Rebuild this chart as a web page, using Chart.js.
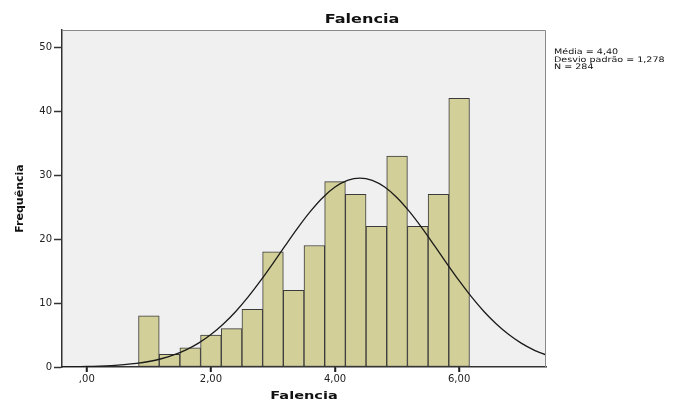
<!DOCTYPE html>
<html>
<head>
<meta charset="utf-8">
<script src="https://cdn.jsdelivr.net/npm/chart.js@4.4.1/dist/chart.umd.min.js"></script>
<style>
html,body{margin:0;padding:0;background:#fff;}
#wrap{width:682px;height:404px;}
</style>
</head>
<body>
<div id="wrap"><canvas id="c" width="682" height="404"></canvas></div>
<script>
// ---- data ----
const binCenters = [1.0000, 1.3333, 1.6667, 2.0000, 2.3333, 2.6667, 3.0000, 3.3333,
                    3.6667, 4.0000, 4.3333, 4.6667, 5.0000, 5.3333, 5.6667, 6.0000];
const frequencies = [8, 2, 3, 5, 6, 9, 18, 12, 19, 29, 27, 22, 33, 22, 27, 42];
const curveX = [-0.4, -0.2, 0.0, 0.2, 0.4, 0.6, 0.8, 1.0, 1.2, 1.4, 1.6, 1.8, 2.0, 2.2,
                2.4, 2.6, 2.8, 3.0, 3.2, 3.4, 3.6, 3.8, 4.0, 4.2, 4.4, 4.6, 4.8, 5.0,
                5.2, 5.4, 5.6, 5.8, 6.0, 6.2, 6.4, 6.6, 6.8, 7.0, 7.2, 7.4];
const curveY = [0.03, 0.05, 0.08, 0.13, 0.22, 0.36, 0.56, 0.86, 1.29, 1.88, 2.68, 3.73,
                5.07, 6.72, 8.68, 10.96, 13.50, 16.22, 19.02, 21.76, 24.29, 26.47, 28.14,
                29.19, 29.55, 29.19, 28.14, 26.47, 24.29, 21.76, 19.02, 16.22, 13.50,
                10.96, 8.68, 6.72, 5.07, 3.73, 2.68, 1.88];
const xTickValues = [0, 2, 4, 6];
const xTickLabels = [',00', '2,00', '4,00', '6,00'];
const yTickValues = [0, 10, 20, 30, 40, 50];
const yTickLabels = ['0', '10', '20', '30', '40', '50'];
const chartTitle = 'Falencia';
const xTitle = 'Falencia';
const yTitle = 'Frequência';
const statsLines = ['Média = 4,40', 'Desvio padrão = 1,278', 'N = 284'];

// ---- plugins ----
const bgPlugin = {
  id: 'bgPlugin',
  beforeDraw(chart) {
    const {ctx, chartArea: a} = chart;
    ctx.save();
    ctx.fillStyle = '#f0f0f0';
    ctx.fillRect(a.left, a.top, a.right - a.left, a.bottom - a.top);
    ctx.restore();
  },
  afterDraw(chart) {
    const {ctx, chartArea: a} = chart;
    ctx.save();
    ctx.strokeStyle = '#8a8a8a';
    ctx.lineWidth = 1;
    ctx.beginPath();
    ctx.moveTo(a.left, a.top + 0.5);
    ctx.lineTo(a.right - 0.5, a.top + 0.5);
    ctx.lineTo(a.right - 0.5, a.bottom);
    ctx.stroke();

    // x tick marks below the axis
    const xs = chart.scales.x;
    ctx.strokeStyle = '#222';
    ctx.lineWidth = 1.5;
    xTickValues.forEach(v => {
      const px = Math.round(xs.getPixelForValue(v));
      ctx.beginPath();
      ctx.moveTo(px, a.bottom);
      ctx.lineTo(px, a.bottom + 5);
      ctx.stroke();
    });

    function txt(s, x, y, font, sx, align, rot) {
      ctx.save();
      ctx.translate(x, y);
      if (rot) ctx.rotate(rot);
      ctx.scale(sx, 1);
      ctx.font = font;
      ctx.fillStyle = '#111';
      ctx.textAlign = align;
      ctx.textBaseline = 'middle';
      ctx.fillText(s, 0, 0);
      ctx.restore();
    }
    txt(chartTitle, 362, 20, 'bold 12px "DejaVu Sans"', 1.34, 'center');
    txt(xTitle, (a.left + a.right) / 2, 396, 'bold 11px "DejaVu Sans"', 1.32, 'center');
    txt(yTitle, 20, (a.top + a.bottom) / 2, 'bold 11px "DejaVu Sans"', 1.0, 'center', -Math.PI / 2);
    statsLines.forEach((s, i) => {
      txt(s, 554, 52.5 + i * 7.4, '7.6px "DejaVu Sans"', 1.26, 'left');
    });
    ctx.restore();
  }
};

new Chart(document.getElementById('c'), {
  data: {
    datasets: [
      {
        type: 'line',
        data: curveX.map((x, i) => ({x: x, y: curveY[i]})),
        borderColor: '#1a1a1a',
        borderWidth: 1.3,
        pointRadius: 0,
        tension: 0.3,
        fill: false,
        order: 0
      },
      {
        type: 'bar',
        data: binCenters.map((x, i) => ({x: x, y: frequencies[i]})),
        backgroundColor: '#d3cf98',
        borderColor: '#3a3a3a',
        borderWidth: 1,
        borderSkipped: false,
        barPercentage: 1.0,
        categoryPercentage: 1.0,
        order: 1
      }
    ]
  },
  options: {
    responsive: false,
    animation: false,
    layout: {padding: {left: 0, top: 30, right: 136, bottom: 0}},
    plugins: {legend: {display: false}, title: {display: false}, tooltip: {enabled: false}},
    scales: {
      x: {
        type: 'linear',
        min: -0.4,
        max: 7.4,
        offset: false,
        afterFit(s) { s.height = 37; },
        afterBuildTicks(s) { s.ticks = xTickValues.map(v => ({value: v})); },
        grid: {offset: false, drawOnChartArea: false, drawTicks: true, tickLength: 5, color: '#222', tickWidth: 1.5},
        border: {color: '#333', width: 1.5},
        ticks: {
          padding: 1,
          color: '#222',
          font: {family: 'DejaVu Sans', size: 10},
          maxRotation: 0,
          callback(v) { const i = xTickValues.indexOf(v); return i >= 0 ? xTickLabels[i] : ''; }
        }
      },
      y: {
        type: 'linear',
        min: 0,
        max: 52.7,
        afterFit(s) { s.width = 62; },
        afterBuildTicks(s) { s.ticks = yTickValues.map(v => ({value: v})); },
        grid: {offset: false, drawOnChartArea: false, drawTicks: true, tickLength: 8, color: '#333', tickWidth: 1.5},
        border: {color: '#333', width: 1.5},
        ticks: {
          padding: 2,
          color: '#222',
          font: {family: 'DejaVu Sans', size: 10},
          callback(v) { const i = yTickValues.indexOf(v); return i >= 0 ? yTickLabels[i] : ''; }
        }
      }
    }
  },
  plugins: [bgPlugin]
});
</script>
</body>
</html>
